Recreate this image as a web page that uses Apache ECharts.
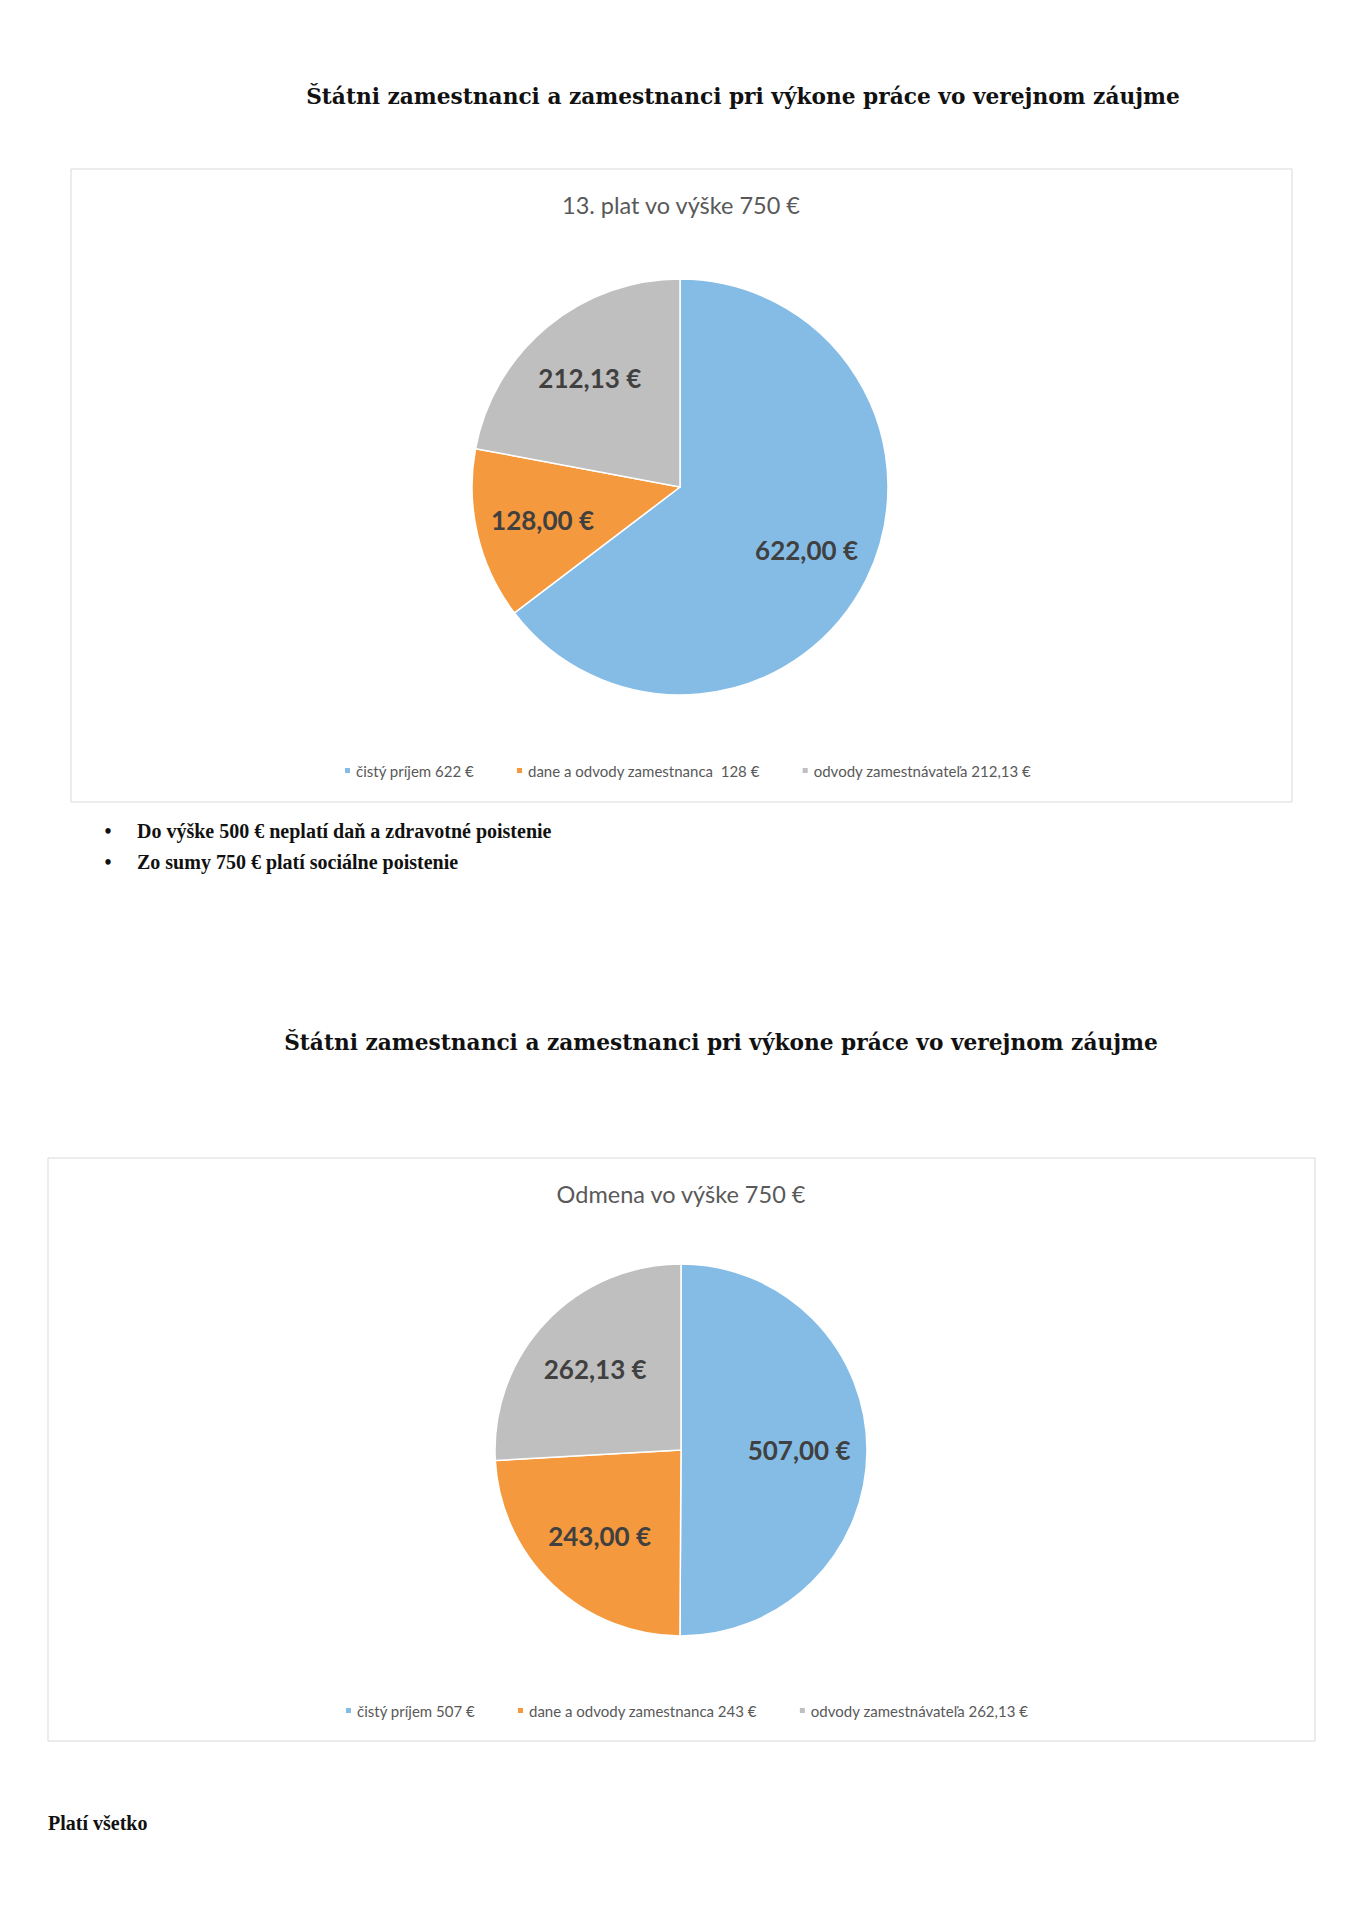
<!DOCTYPE html>
<html>
<head>
<meta charset="utf-8">
<script src="https://cdn.jsdelivr.net/npm/echarts@6/dist/echarts.min.js"></script>
<style>
html,body{margin:0;padding:0;background:#fff;}
#main{width:1358px;height:1920px;}
</style>
</head>
<body>
<div id="main"></div>
<script>
// ---- data ----
var pageTitle = 'Štátni zamestnanci a zamestnanci pri výkone práce vo verejnom záujme';
var chart1Title = '13. plat vo výške 750 €';
var chart1Names = ['čistý príjem 622 €', 'dane a odvody zamestnanca  128 €', 'odvody zamestnávateľa 212,13 €'];
var chart1Values = [622, 128, 212.13];
var chart2Title = 'Odmena vo výške 750 €';
var chart2Names = ['čistý príjem 507 €', 'dane a odvody zamestnanca 243 €', 'odvody zamestnávateľa 262,13 €'];
var chart2Values = [507, 243, 262.13];
var bulletLines = ['Do výške 500 € neplatí daň a zdravotné poistenie', 'Zo sumy 750 € platí sociálne poistenie'];
var footerText = 'Platí všetko';
var sliceColors = ['#85BCE6', '#F4993E', '#BFBFBF'];

function toData(names, values) {
  return names.map(function (n, i) { return { name: n, value: values[i] }; });
}
function fmt(v) { return v.toFixed(2).replace('.', ',') + ' €'; }

var el = document.getElementById('main');
var chart = echarts.init(el, null, { renderer: 'svg', width: 1358, height: 1920 });

function pieSeries(data, cx, cy, r, k) {
  return {
    type: 'pie',
    center: [cx, cy],
    radius: [0, r],
    startAngle: 90,
    clockwise: true,
    avoidLabelOverlap: false,
    data: data,
    itemStyle: { borderColor: '#ffffff', borderWidth: 1.5 },
    label: {
      show: true,
      position: 'inside',
      formatter: function (p) { return fmt(p.value); },
      color: '#404040',
      fontFamily: 'Lato',
      fontWeight: 'bold',
      fontSize: 26
    },
    labelLine: { show: false },
    emphasis: { disabled: true },
    labelLayout: function (p) {
      var lx = p.labelRect.x + p.labelRect.width / 2;
      var ly = p.labelRect.y + p.labelRect.height / 2;
      return { x: cx + (lx - cx) * k, y: cy + (ly - cy) * k, align: 'center', verticalAlign: 'middle' };
    }
  };
}

var headerFont = 'bold 21.7px "DejaVu Serif"';
var bulletFont = 'bold 20px "Liberation Serif"';
var legendText = { fontFamily: 'Lato', fontSize: 15, color: '#595959' };

var option = {
  backgroundColor: '#ffffff',
  animation: false,
  color: sliceColors,
  title: [
    { text: chart1Title, left: 681, top: 205, padding: 0, textAlign: 'center', textVerticalAlign: 'middle',
      textStyle: { fontFamily: 'Lato', fontWeight: 'normal', fontSize: 23.5, color: '#595959' } },
    { text: chart2Title, left: 681, top: 1194, padding: 0, textAlign: 'center', textVerticalAlign: 'middle',
      textStyle: { fontFamily: 'Lato', fontWeight: 'normal', fontSize: 23.5, color: '#595959' } }
  ],
  legend: [
    { data: chart1Names, left: 343, top: 763, padding: 0, icon: 'rect', itemWidth: 7, itemHeight: 7, itemGap: 41,
      textStyle: legendText, selectedMode: false },
    { data: chart2Names, left: 344, top: 1703, padding: 0, icon: 'rect', itemWidth: 7, itemHeight: 7, itemGap: 41,
      textStyle: legendText, selectedMode: false }
  ],
  graphic: [
    { type: 'rect', shape: { x: 71, y: 169, width: 1221, height: 633 }, style: { fill: 'none', stroke: '#D9D9D9', lineWidth: 1 }, z: -1 },
    { type: 'rect', shape: { x: 48, y: 1158, width: 1267, height: 583 }, style: { fill: 'none', stroke: '#D9D9D9', lineWidth: 1 }, z: -1 },
    { type: 'text', x: 743, y: 96, style: { text: pageTitle, font: headerFont, fill: '#111111', textAlign: 'center', textVerticalAlign: 'middle' } },
    { type: 'text', x: 721, y: 1042, style: { text: pageTitle, font: headerFont, fill: '#111111', textAlign: 'center', textVerticalAlign: 'middle' } },
    { type: 'text', x: 108, y: 831, style: { text: '•', font: bulletFont, fill: '#111111', textAlign: 'center', textVerticalAlign: 'middle' } },
    { type: 'text', x: 137, y: 831, style: { text: bulletLines[0], font: bulletFont, fill: '#111111', textAlign: 'left', textVerticalAlign: 'middle' } },
    { type: 'text', x: 108, y: 862, style: { text: '•', font: bulletFont, fill: '#111111', textAlign: 'center', textVerticalAlign: 'middle' } },
    { type: 'text', x: 137, y: 862, style: { text: bulletLines[1], font: bulletFont, fill: '#111111', textAlign: 'left', textVerticalAlign: 'middle' } },
    { type: 'text', x: 48, y: 1823, style: { text: footerText, font: bulletFont, fill: '#111111', textAlign: 'left', textVerticalAlign: 'middle' } }
  ],
  series: [
    pieSeries(toData(chart1Names, chart1Values), 680, 487, 208, 1.32),
    pieSeries(toData(chart2Names, chart2Values), 681, 1450, 186, 1.23)
  ]
};
chart.setOption(option);
</script>
</body>
</html>
